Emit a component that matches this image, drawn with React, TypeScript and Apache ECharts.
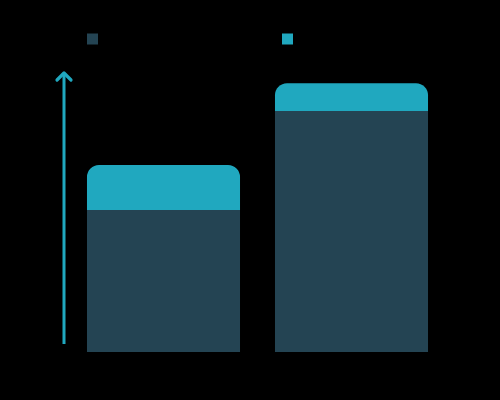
import React, { useEffect, useRef } from "react";
import * as echarts from "echarts";

const categories = ["2022", "2023"];
const baseValues = [47.3, 80.3];
const growthValues = [15, 9.3];
const seriesNames = ["Base", "Growth"];

const DARK = "#244453";
const CYAN = "#20a8bf";

export default function App() {
  const ref = useRef<HTMLDivElement>(null);
  useEffect(() => {
    document.body.style.margin = "0";
    document.body.style.background = "#000";
    const chart = echarts.init(ref.current!, null, { renderer: "svg" });
    chart.setOption({
      animation: false,
      backgroundColor: "#000000",
      legend: [
        {
          data: [seriesNames[0]],
          left: 82,
          top: 28,
          itemWidth: 11,
          itemHeight: 11,
          icon: "rect",
          textStyle: { color: "#000000", fontSize: 12 },
        },
        {
          data: [seriesNames[1]],
          left: 277,
          top: 28,
          itemWidth: 11,
          itemHeight: 11,
          icon: "rect",
          textStyle: { color: "#000000", fontSize: 12 },
        },
      ],
      grid: { left: 69.5, right: 54.5, top: 52, bottom: 48 },
      xAxis: {
        type: "category",
        data: categories,
        axisLine: { show: false },
        axisTick: { show: false },
        axisLabel: { show: false },
      },
      yAxis: {
        type: "value",
        min: 0,
        max: 100,
        splitLine: { show: false },
        axisLine: { show: false },
        axisTick: { show: false },
        axisLabel: { show: false },
      },
      graphic: [
        {
          type: "line",
          shape: { x1: 64, y1: 344, x2: 64, y2: 73 },
          style: { stroke: CYAN, lineWidth: 3 },
        },
        {
          type: "polyline",
          shape: { points: [[57, 80], [64, 73], [71, 80]] },
          style: { stroke: CYAN, lineWidth: 3.2, fill: null, lineCap: "round", lineJoin: "round" },
        },
      ],
      series: [
        {
          name: seriesNames[0],
          type: "bar",
          stack: "total",
          data: baseValues,
          barCategoryGap: "18.6%",
          itemStyle: { color: DARK },
        },
        {
          name: seriesNames[1],
          type: "bar",
          stack: "total",
          data: growthValues,
          barCategoryGap: "18.6%",
          itemStyle: { color: CYAN, borderRadius: [12, 12, 0, 0] },
        },
      ],
    });
    return () => chart.dispose();
  }, []);
  return (
    <div
      ref={ref}
      style={{ position: "fixed", left: 0, top: 0, width: 500, height: 400, background: "#000" }}
    />
  );
}
